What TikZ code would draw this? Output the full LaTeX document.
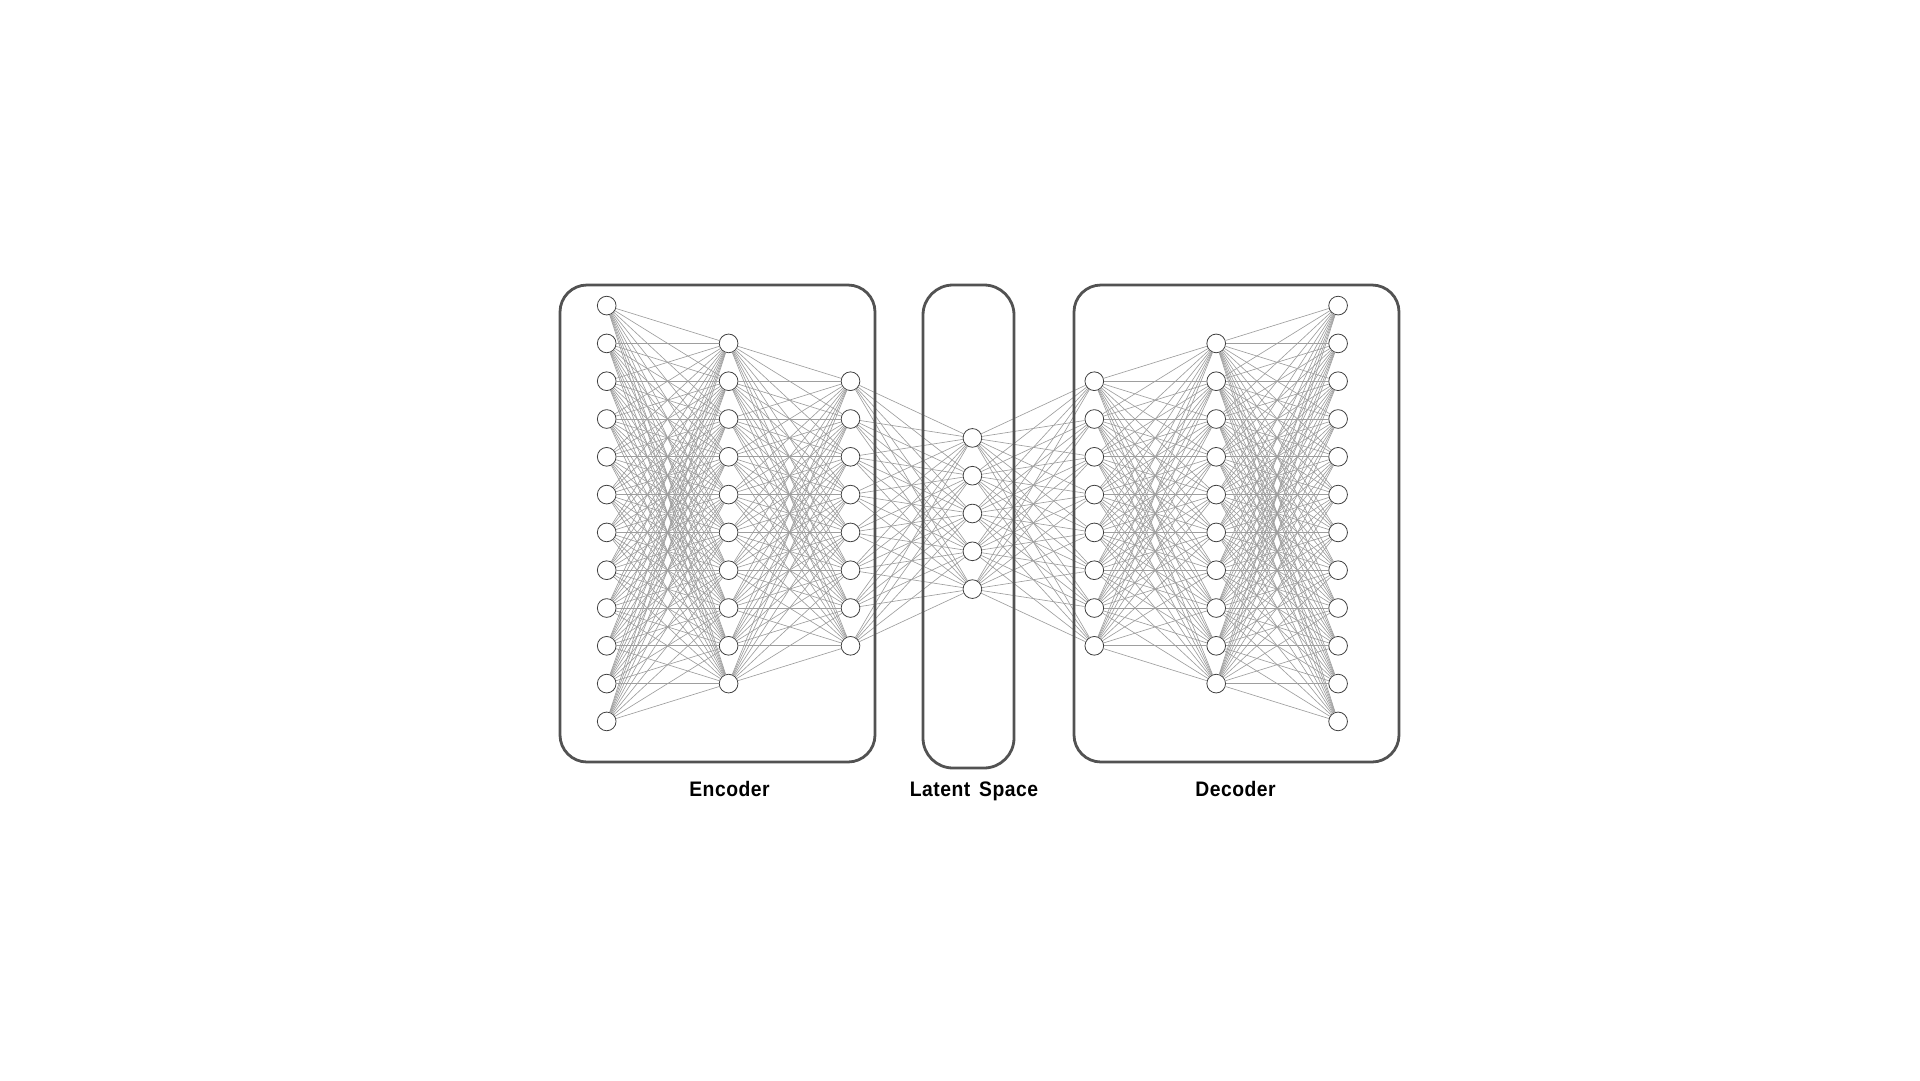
\documentclass[tikz,border=0pt]{standalone}
\usepackage{fontspec}
\newfontfamily\labelfont[FakeStretch=0.92, LetterSpace=2.5, WordSpace=1.5]{Liberation Sans}

\begin{document}
\begin{tikzpicture}[x=1pt, y=-1pt,
                    neuron/.style={circle, draw=black!75, fill=white, line width=0.8pt, minimum size=18.7pt, inner sep=0pt},
                    link/.style={draw=black!38, line width=0.65pt},
                    group/.style={draw=black!68, line width=2.8pt, rounded corners=27pt},
                    caption/.style={font=\labelfont\bfseries\fontsize{21}{25}\selectfont, text=black, anchor=base}]
  \useasboundingbox (0,0) rectangle (1920,1080);
  % neurons of each layer
  \foreach \l/\n in {1/12,2/10,3/8,4/5,5/8,6/10,7/12} {
    \foreach \i in {1,...,\n} {
      \node[neuron] (n\l-\i) at ({606.7+121.9*(\l-1)}, {513.5+37.8*(\i-(\n+1)/2)}) {};
    }
  }
  % fully connected links
  \foreach \l/\n/\m in {1/12/10,2/10/8,3/8/5,4/5/8,5/8/10,6/10/12} {
    \pgfmathtruncatemacro{\k}{\l+1}
    \foreach \i in {1,...,\n} {
      \foreach \j in {1,...,\m} {
        \draw[link] (n\l-\i) -- (n\k-\j);
      }
    }
  }
  % frames
  \draw[group] (560,285) rectangle (875,762);
  \draw[group, rounded corners=30pt] (923,285) rectangle (1014,768);
  \draw[group] (1074,285) rectangle (1399,762);
  % captions
  \node[caption] (enc) at (729.5,796) {Encoder};
  \node[caption] (lat) at (974,796) {Latent Space};
  \node[caption] (dec) at (1235.5,796) {Decoder};
\end{tikzpicture}
\end{document}
